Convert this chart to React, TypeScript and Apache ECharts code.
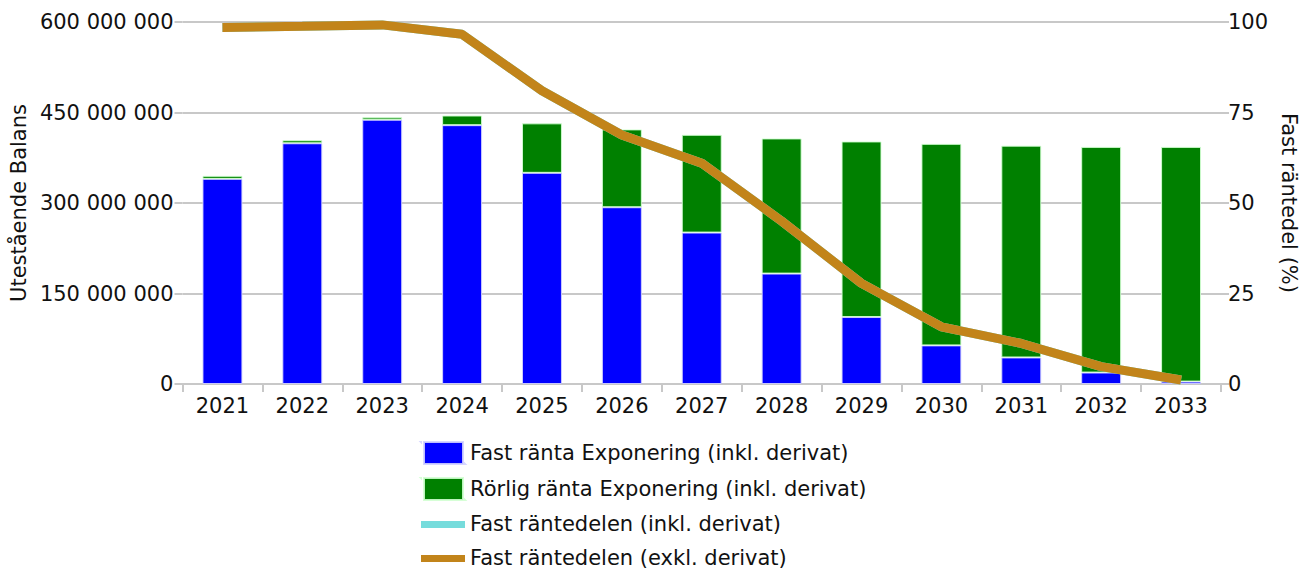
import React, { useEffect, useRef } from "react";
import * as echarts from "echarts";

const years = ["2021", "2022", "2023", "2024", "2025", "2026", "2027", "2028", "2029", "2030", "2031", "2032", "2033"];
const fastExponering = [340e6, 399e6, 438e6, 429e6, 350e6, 293e6, 251e6, 183e6, 111e6, 64e6, 44e6, 19e6, 4e6];
const rorligExponering = [5e6, 5e6, 4e6, 16e6, 82e6, 129e6, 162e6, 224e6, 291e6, 334e6, 351e6, 374e6, 389e6];
const fastDelInkl = [98.5, 98.8, 99.2, 96.6, 81.0, 68.8, 61.0, 45.0, 27.8, 15.8, 11.2, 4.8, 1.1];
const fastDelExkl = [98.5, 98.8, 99.2, 96.6, 81.0, 68.8, 61.0, 45.0, 27.8, 15.8, 11.2, 4.8, 1.1];

const FONT = "DejaVu Sans";
const FS = 21;
const fmt = (v: number) => String(Math.round(v)).replace(/\B(?=(\d{3})+(?!\d))/g, " ");
const lineIcon = "path://M0,0L0.05,0L0.05,0.05ZM0,22L0.05,22L0.05,21.95ZM0,8L44,8L44,15L0,15Z";
const rectIcon = "path://M0,0L0.05,0L0.05,0.05ZM3,0L42,0L42,22L3,22ZM44,22L43.95,22L43.95,21.95Z";

export default function App() {
  const ref = useRef<HTMLDivElement>(null);
  useEffect(() => {
    if (!ref.current) return;
    const chart = echarts.init(ref.current, null, { renderer: "svg" });
    const gray = { color: "#c8c8c8", width: 2 };
    chart.setOption({
      animation: false,
      textStyle: { fontFamily: FONT },
      grid: { left: 182, right: 89, top: 22, bottom: 190 },
      legend: {
        orient: "vertical",
        left: 420,
        top: 441,
        height: 160,
        padding: 0,
        itemWidth: 44,
        itemHeight: 22,
        itemGap: 12,
        textStyle: { fontFamily: FONT, fontSize: FS, color: "#111", lineHeight: 22 },
        data: [
          { name: "Fast ränta Exponering (inkl. derivat)", icon: rectIcon },
          { name: "Rörlig ränta Exponering (inkl. derivat)", icon: rectIcon },
          { name: "Fast räntedelen (inkl. derivat)", icon: lineIcon },
          { name: "Fast räntedelen (exkl. derivat)", icon: lineIcon },
        ],
      },
      xAxis: {
        type: "category",
        data: years,
        boundaryGap: true,
        axisLine: { show: true, lineStyle: gray },
        axisTick: { show: true, length: 8, lineStyle: gray },
        axisLabel: { fontFamily: FONT, fontSize: FS, color: "#111", margin: 11 },
      },
      yAxis: [
        {
          type: "value",
          min: 0,
          max: 600e6,
          interval: 150e6,
          name: "Utestående Balans",
          nameLocation: "middle",
          nameGap: 150,
          nameTextStyle: { fontFamily: FONT, fontSize: FS, color: "#111" },
          axisLine: { show: false },
          axisTick: { show: true, length: 8, lineStyle: gray },
          splitLine: { show: true, lineStyle: gray },
          axisLabel: { fontFamily: FONT, fontSize: FS, color: "#111", margin: 9, formatter: fmt },
        },
        {
          type: "value",
          min: 0,
          max: 100,
          interval: 25,
          position: "right",
          name: "Fast räntedel (%)",
          nameLocation: "middle",
          nameRotate: -90,
          nameGap: 54,
          nameTextStyle: { fontFamily: FONT, fontSize: FS, color: "#111" },
          axisLine: { show: false },
          axisTick: { show: true, length: 8, lineStyle: gray },
          splitLine: { show: false },
          axisLabel: { fontFamily: FONT, fontSize: FS, color: "#111", margin: 7 },
        },
      ],
      series: [
        {
          name: "Fast ränta Exponering (inkl. derivat)",
          type: "bar",
          stack: "exp",
          barWidth: "50%",
          data: fastExponering,
          itemStyle: { color: "#0000ff", borderColor: "rgba(210,210,255,0.9)", borderWidth: 1 },
        },
        {
          name: "Rörlig ränta Exponering (inkl. derivat)",
          type: "bar",
          stack: "exp",
          barWidth: "50%",
          data: rorligExponering,
          itemStyle: { color: "#008000", borderColor: "rgba(210,255,210,0.9)", borderWidth: 1 },
        },
        {
          name: "Fast räntedelen (inkl. derivat)",
          type: "line",
          yAxisIndex: 1,
          data: fastDelInkl,
          symbol: "none",
          showSymbol: false,
          lineStyle: { color: "#76dcdc", width: 9 },
          itemStyle: { color: "#76dcdc" },
          z: 3,
        },
        {
          name: "Fast räntedelen (exkl. derivat)",
          type: "line",
          yAxisIndex: 1,
          data: fastDelExkl,
          symbol: "none",
          showSymbol: false,
          lineStyle: { color: "#c2841a", width: 9 },
          itemStyle: { color: "#c2841a" },
          z: 4,
        },
      ],
    });
    return () => chart.dispose();
  }, []);
  return <div ref={ref} style={{ width: 1310, height: 574, position: "absolute", left: 0, top: 0 }} />;
}
